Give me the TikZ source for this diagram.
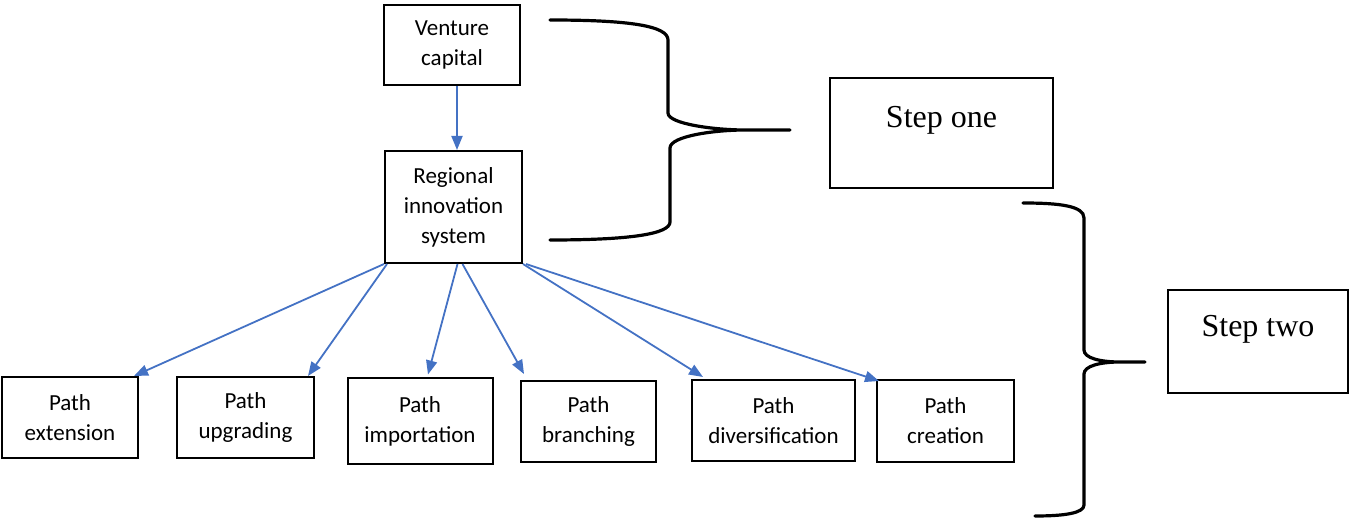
\documentclass[tikz,border=0pt]{standalone}
\usepackage{fontspec}
\setmainfont{Liberation Serif}
\newfontfamily\boxfont{Carlito}
\usetikzlibrary{arrows.meta}
\definecolor{linkblue}{HTML}{4472C4}
\tikzset{
    pathbox/.style={draw, line width=1pt, align=center, inner sep=2pt, font=\boxfont\fontsize{11.5}{15}\selectfont},
    stepbox/.style={draw, line width=1pt, font=\fontsize{16}{19}\selectfont, text height=11pt, text depth=16pt},
    link/.style={->, linkblue, line width=0.9pt},
    brace/.style={line width=1.6pt, line cap=round}
}
\begin{document}
\begin{tikzpicture}[x=0.5pt, y=-0.5pt, >={Triangle[length=7pt, width=5.5pt]}]
                \useasboundingbox (0,0) rectangle (1350,518);

                % Top boxes
                \node[pathbox, minimum width=68pt, minimum height=40pt] (vc) at (452,45) {Venture\\capital};
                \node[pathbox, minimum width=68.5pt, minimum height=56pt] (ris) at (453.5,207) {Regional\\innovation\\system};
                \draw[link] ([xshift=2.5pt]vc.south) -- ([xshift=1.75pt]ris.north);

                % Step boxes
                \node[stepbox, minimum width=111.5pt, minimum height=55pt] (stepone) at (941.5,133) {Step one};
                \node[stepbox, minimum width=90pt, minimum height=51.5pt] (steptwo) at (1258,341.5) {Step two};

                % Path boxes
                \node[pathbox, minimum width=68pt, minimum height=40.5pt] (ext) at (70,417.5) {Path\\extension};
                \node[pathbox, minimum width=68.5pt, minimum height=40.5pt] (upg) at (245.5,417.5) {Path\\upgrading};
                \node[pathbox, minimum width=72.5pt, minimum height=42.5pt] (imp) at (420,421) {Path\\importation};
                \node[pathbox, minimum width=67.5pt, minimum height=40.5pt] (bra) at (588.5,421.5) {Path\\branching};
                \node[pathbox, minimum width=81.5pt, minimum height=40.5pt] (dvs) at (773.5,420.5) {Path\\diversification};
                \node[pathbox, minimum width=68.5pt, minimum height=41pt] (cre) at (945.5,421) {Path\\creation};

                % Links
                \draw[link] (ris.south west) -- ([xshift=-2.5pt]ext.north east);
                \draw[link] ([xshift=1.5pt]ris.south west) -- ([xshift=-3.5pt]upg.north east);
                \draw[link] ([xshift=2pt]ris.south) -- ([xshift=4pt, yshift=1.5pt]imp.north);
                \draw[link] ([xshift=4.5pt]ris.south) -- ([xshift=2pt, yshift=3pt]bra.north west);
                \draw[link] (ris.south east) -- ([xshift=6pt, yshift=1pt]dvs.north west);
                \draw[link] ([xshift=1.5pt]ris.south east) -- ([xshift=1.5pt, yshift=-1pt]cre.north west);

                % Braces
                \draw[brace] (550,20) .. controls (630,20) and (668,26) .. (668,40) -- (668,113)
                    .. controls (668,124) and (715,130) .. (745,130) -- (790,130)
                    (745,130) .. controls (715,130) and (670,136) .. (670,148) -- (670,222)
                    .. controls (670,234) and (630,240) .. (550,240);
                \draw[brace] (1023,203) .. controls (1060,203) and (1084,206) .. (1084,218) -- (1084,350)
                    .. controls (1084,358) and (1100,362) .. (1120,362) -- (1145,362)
                    (1120,362) .. controls (1100,362) and (1084,366) .. (1084,374) -- (1084,505)
                    .. controls (1084,513) and (1065,516) .. (1035,516);
            \end{tikzpicture}
\end{document}
